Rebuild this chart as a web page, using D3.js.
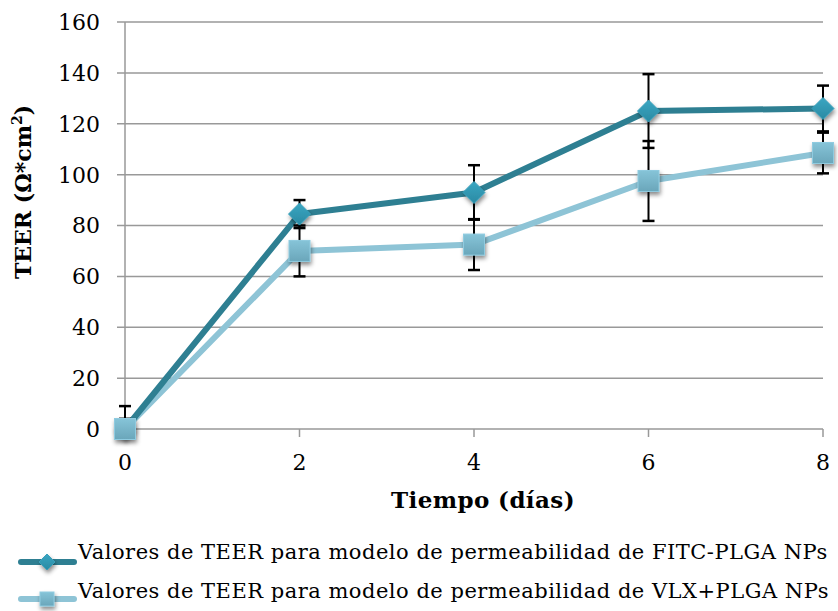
<!DOCTYPE html>
<html><head><meta charset="utf-8">
<script src="https://cdn.jsdelivr.net/npm/d3@7"></script>
<style>body{margin:0;background:#fff}svg{display:block}</style>
</head><body><svg id="c" width="838" height="611"></svg>
<script>
const days = [0, 2, 4, 6, 8];
const fitcValues = [0, 84.5, 93, 125, 126];
const fitcErrors = [4, 5.5, 10.7, 14.5, 9];
const vlxValues = [0, 70, 72.5, 97.5, 108.5];
const vlxErrors = [9, 10, 10, 15.7, 8];
const yTicks = [0, 20, 40, 60, 80, 100, 120, 140, 160];
const xTicks = [0, 2, 4, 6, 8];
const seriesNames = ["Valores de TEER para modelo de permeabilidad de FITC-PLGA NPs",
                     "Valores de TEER para modelo de permeabilidad de VLX+PLGA NPs"];
const xTitle = "Tiempo (días)";

const FONT = "DejaVu Serif";
const svg = d3.select("#c");
const m = {l:125, r:823, t:22, b:429};
const x = d3.scaleLinear().domain([0,8]).range([m.l, m.r]);
const y = d3.scaleLinear().domain([0,160]).range([m.b, m.t]);

const defs = svg.append("defs");
defs.append("clipPath").attr("id","clip").append("rect")
  .attr("x", m.l-30).attr("y", 0).attr("width", m.r-m.l+60).attr("height", m.b);
const f = defs.append("filter").attr("id","sh").attr("x","-50%").attr("y","-50%").attr("width","200%").attr("height","200%");
f.append("feDropShadow").attr("dx",1).attr("dy",3).attr("stdDeviation",2).attr("flood-color","#000").attr("flood-opacity",0.45);
const gd = defs.append("linearGradient").attr("id","gd").attr("x1",0).attr("y1",0).attr("x2",0).attr("y2",1);
gd.append("stop").attr("offset","0%").attr("stop-color","#3aa6c2");
gd.append("stop").attr("offset","100%").attr("stop-color","#2a8aa3");
const gs = defs.append("linearGradient").attr("id","gs").attr("x1",0).attr("y1",0).attr("x2",0).attr("y2",1);
gs.append("stop").attr("offset","0%").attr("stop-color","#86c4d8");
gs.append("stop").attr("offset","100%").attr("stop-color","#6aa6ba");

// gridlines
svg.append("g").selectAll("line").data(yTicks).join("line")
  .attr("x1", m.l-8).attr("x2", m.r).attr("y1", d=>y(d)).attr("y2", d=>y(d))
  .attr("stroke","#999").attr("stroke-width",1.5);
svg.append("line").attr("x1",m.l).attr("x2",m.l).attr("y1",m.t).attr("y2",m.b)
  .attr("stroke","#999").attr("stroke-width",1.5);
// x tick marks
svg.append("g").selectAll("line").data(xTicks).join("line")
  .attr("x1", d=>x(d)).attr("x2", d=>x(d)).attr("y1", m.b).attr("y2", m.b+8)
  .attr("stroke","#999").attr("stroke-width",1.5);

// y tick labels
svg.append("g").selectAll("text").data(yTicks).join("text")
  .attr("x", 100).attr("y", d=>y(d)).attr("dy","0.36em").attr("text-anchor","end")
  .attr("font-family",FONT).attr("font-size",22).text(d=>d);
// x tick labels
svg.append("g").selectAll("text").data(xTicks).join("text")
  .attr("x", d=>x(d)).attr("y", 470).attr("text-anchor","middle")
  .attr("font-family",FONT).attr("font-size",22).text(d=>d);

svg.append("text").attr("x",483).attr("y",508).attr("text-anchor","middle")
  .attr("font-family",FONT).attr("font-weight","bold").attr("font-size",23)
  .attr("letter-spacing",0.4).text(xTitle);
const yt = svg.append("text").attr("transform","translate(31,192) rotate(-90)").attr("text-anchor","middle")
  .attr("font-family",FONT).attr("font-weight","bold").attr("font-size",22);
yt.append("tspan").text("TEER (Ω*cm");
yt.append("tspan").attr("font-size",14).attr("dy",-9).text("2");
yt.append("tspan").attr("dy",9).text(")");

const line = d3.line().x(d=>x(d[0])).y(d=>y(d[1]));
const series = [
  {vals: fitcValues, errs: fitcErrors, color:"#2e7f92", marker:"diamond"},
  {vals: vlxValues, errs: vlxErrors, color:"#8ec4d6", marker:"square"}
];
// lines
series.slice().reverse().forEach(s=>{
  svg.append("path").datum(days.map((d,i)=>[d,s.vals[i]])).attr("d",line)
    .attr("fill","none").attr("stroke",s.color).attr("stroke-width",6).attr("stroke-linejoin","round");
});
// error bars
const eg = svg.append("g").attr("clip-path","url(#clip)");
series.forEach(s=>{
  days.forEach((d,i)=>{
    const cx = x(d), y1 = y(s.vals[i]+s.errs[i]), y0 = y(s.vals[i]-s.errs[i]);
    eg.append("line").attr("x1",cx).attr("x2",cx).attr("y1",y1).attr("y2",y0).attr("stroke","#000").attr("stroke-width",2);
    [y1,y0].forEach(yy=>eg.append("line").attr("x1",cx-6).attr("x2",cx+6).attr("y1",yy).attr("y2",yy).attr("stroke","#000").attr("stroke-width",2.5));
  });
});
function marker(g, type, cx, cy, sz){
  if(type==="diamond"){
    const r = sz;
    g.append("path").attr("d",`M${cx},${cy-r}L${cx+r},${cy}L${cx},${cy+r}L${cx-r},${cy}Z`)
      .attr("fill","url(#gd)").attr("stroke","#3aa0bb").attr("stroke-width",1).attr("filter","url(#sh)");
  } else {
    g.append("rect").attr("x",cx-sz).attr("y",cy-sz).attr("width",2*sz).attr("height",2*sz)
      .attr("fill","url(#gs)").attr("stroke","#8fcbe0").attr("stroke-width",1).attr("filter","url(#sh)");
  }
}
const mg = svg.append("g");
series.forEach(s=>{
  days.forEach((d,i)=>marker(mg, s.marker, x(d), y(s.vals[i]), s.marker==="diamond"?11:10.5));
});

// legend
const lg = svg.append("g");
const legLineY = [562, 599], legTextY = [559, 598];
series.forEach((s,i)=>{
  const ly = legLineY[i];
  lg.append("line").attr("x1",21).attr("x2",74).attr("y1",ly).attr("y2",ly)
    .attr("stroke",s.color).attr("stroke-width",6).attr("stroke-linecap","round");
  marker(lg, s.marker, 47, ly, s.marker==="diamond"?8:7);
  lg.append("text").attr("x",78).attr("y",legTextY[i])
    .attr("font-family",FONT).attr("font-size",21).attr("letter-spacing",0.5).text(seriesNames[i]);
});
</script></body></html>
